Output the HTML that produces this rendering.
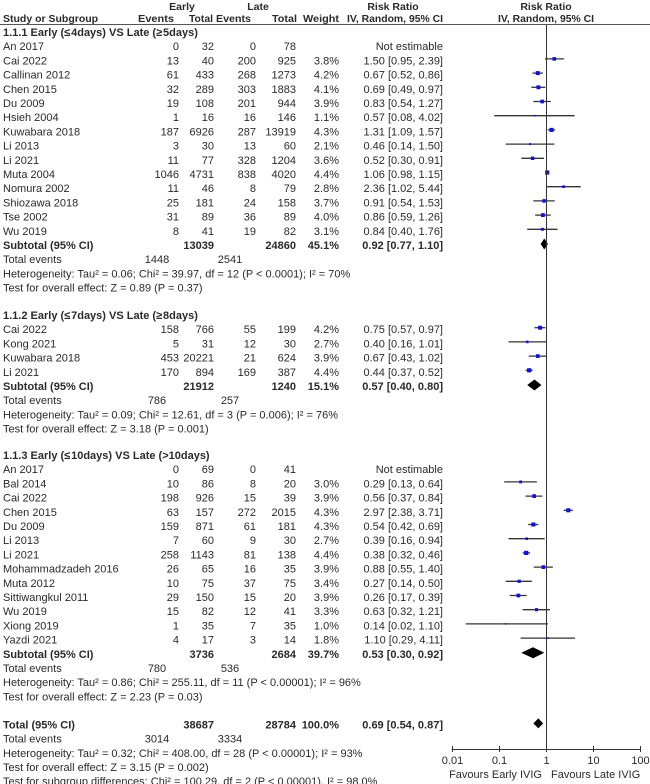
<!DOCTYPE html>
<html><head><meta charset="utf-8">
<style>
html,body{margin:0;padding:0;background:#fff;}
svg{display:block;}
text{font-family:"Liberation Sans",Arial,sans-serif;font-size:11px;fill:#2a2a2a;}
.b{font-weight:bold;}
.h{font-size:10.5px;}
</style></head>
<body>
<svg id="plot" width="650" height="784" viewBox="0 0 650 784" xmlns="http://www.w3.org/2000/svg">
  <g>
    <text x="182" y="10" text-anchor="middle" class="b h">Early</text>
    <text x="258" y="10" text-anchor="middle" class="b h">Late</text>
    <text x="393" y="10" text-anchor="middle" class="b h">Risk Ratio</text>
    <text x="546" y="10" text-anchor="middle" class="b h">Risk Ratio</text>
    <text x="3" y="22" class="b h">Study or Subgroup</text>
    <text x="174" y="22" text-anchor="end" class="b h" textLength="36" lengthAdjust="spacingAndGlyphs">Events</text>
    <text x="213" y="22" text-anchor="end" class="b h" textLength="24" lengthAdjust="spacingAndGlyphs">Total</text>
    <text x="251" y="22" text-anchor="end" class="b h" textLength="35" lengthAdjust="spacingAndGlyphs">Events</text>
    <text x="297" y="22" text-anchor="end" class="b h" textLength="25" lengthAdjust="spacingAndGlyphs">Total</text>
    <text x="339" y="22" text-anchor="end" class="b h" textLength="36" lengthAdjust="spacingAndGlyphs">Weight</text>
    <text x="443" y="22" text-anchor="end" class="b h" textLength="96" lengthAdjust="spacingAndGlyphs">IV, Random, 95% CI</text>
    <text x="546" y="22" text-anchor="middle" class="b h" textLength="96" lengthAdjust="spacingAndGlyphs">IV, Random, 95% CI</text>
    <line x1="0" y1="24.5" x2="650" y2="24.5" stroke="#555" stroke-width="1"/>
  </g>
  <g id="rows"></g>
  <g id="marks"></g>
  <g id="axis"></g>
</svg>
<script>
// ---- data ----
const studyNames = ["An 2017","Cai 2022","Callinan 2012","Chen 2015","Du 2009","Hsieh 2004","Kuwabara 2018","Li 2013","Li 2021","Muta 2004","Nomura 2002","Shiozawa 2018","Tse 2002","Wu 2019",
 "Cai 2022","Kong 2021","Kuwabara 2018","Li 2021",
 "An 2017","Bal 2014","Cai 2022","Chen 2015","Du 2009","Li 2013","Li 2021","Mohammadzadeh 2016","Muta 2012","Sittiwangkul 2011","Wu 2019","Xiong 2019","Yazdi 2021"];
const studyGroup = [0,0,0,0,0,0,0,0,0,0,0,0,0,0, 1,1,1,1, 2,2,2,2,2,2,2,2,2,2,2,2,2];
const earlyEvents = [0,13,61,32,19,1,187,3,11,1046,11,25,31,8, 158,5,453,170, 0,10,198,63,159,7,258,26,10,29,15,1,4];
const earlyTotal = [32,40,433,289,108,16,6926,30,77,4731,46,181,89,41, 766,31,20221,894, 69,86,926,157,871,60,1143,65,75,150,82,35,17];
const lateEvents = [0,200,268,303,201,16,287,13,328,838,8,24,36,19, 55,12,21,169, 0,8,15,272,61,9,81,16,37,15,12,7,3];
const lateTotal = [78,925,1273,1883,944,146,13919,60,1204,4020,79,158,89,82, 199,30,624,387, 41,20,39,2015,181,30,138,35,75,20,41,35,14];
const weights = [null,3.8,4.2,4.1,3.9,1.1,4.3,2.1,3.6,4.4,2.8,3.7,4.0,3.1, 4.2,2.7,3.9,4.4, null,3.0,3.9,4.3,4.3,2.7,4.4,3.9,3.4,3.9,3.3,1.0,1.8];
const riskRatio = [null,1.50,0.67,0.69,0.83,0.57,1.31,0.46,0.52,1.06,2.36,0.91,0.86,0.84, 0.75,0.40,0.67,0.44, null,0.29,0.56,2.97,0.54,0.39,0.38,0.88,0.27,0.26,0.63,0.14,1.10];
const ciLow = [null,0.95,0.52,0.49,0.54,0.08,1.09,0.14,0.30,0.98,1.02,0.54,0.59,0.40, 0.57,0.16,0.43,0.37, null,0.13,0.37,2.38,0.42,0.16,0.32,0.55,0.14,0.17,0.32,0.02,0.29];
const ciHigh = [null,2.39,0.86,0.97,1.27,4.02,1.57,1.50,0.91,1.15,5.44,1.53,1.26,1.76, 0.97,1.01,1.02,0.52, null,0.64,0.84,3.71,0.69,0.94,0.46,1.40,0.50,0.39,1.21,1.10,4.11];

const groupTitles = ["1.1.1 Early (\u2264\u200a4days) VS Late (\u2265\u200a5days)","1.1.2 Early (\u2264\u200a7days) VS Late (\u2265\u200a8days)","1.1.3 Early (\u2264\u200a10days) VS Late (>10days)"];
const subEarlyTotal = [13039,21912,3736];
const subLateTotal = [24860,1240,2684];
const subWeight = ["45.1%","15.1%","39.7%"];
const subRR = [0.92,0.57,0.53];
const subLow = [0.77,0.40,0.30];
const subHigh = [1.10,0.80,0.92];
const subEarlyEvents = [1448,786,780];
const subLateEvents = [2541,257,536];
const subHet = ["Heterogeneity: Tau\u00b2 = 0.06; Chi\u00b2 = 39.97, df = 12 (P < 0.0001); I\u00b2 = 70%",
 "Heterogeneity: Tau\u00b2 = 0.09; Chi\u00b2 = 12.61, df = 3 (P = 0.006); I\u00b2 = 76%",
 "Heterogeneity: Tau\u00b2 = 0.86; Chi\u00b2 = 255.11, df = 11 (P < 0.00001); I\u00b2 = 96%"];
const subTest = ["Test for overall effect: Z = 0.89 (P = 0.37)","Test for overall effect: Z = 3.18 (P = 0.001)","Test for overall effect: Z = 2.23 (P = 0.03)"];
const totalEarly = 38687, totalLate = 28784, totalRR = 0.69, totalLow = 0.54, totalHigh = 0.87;
const totalEarlyEvents = 3014, totalLateEvents = 3334;
const totalHet = "Heterogeneity: Tau\u00b2 = 0.32; Chi\u00b2 = 408.00, df = 28 (P < 0.00001); I\u00b2 = 93%";
const totalTest = "Test for overall effect: Z = 3.15 (P = 0.002)";
const subgroupTest = "Test for subgroup differences: Chi\u00b2 = 100.29, df = 2 (P < 0.00001), I\u00b2 = 98.0%";
const tickValues = [0.01,0.1,1,10,100];
const tickLabels = ["0.01","0.1","1","10","100"];

// ---- layout ----
const NS = "http://www.w3.org/2000/svg";
const rowsG = document.getElementById("rows");
const marksG = document.getElementById("marks");
const axisG = document.getElementById("axis");
const PITCH = 14.2;
const groupStart = [32, 315, 455];
const X0 = 546, DEC = 47.2;
function xScale(v){ return X0 + Math.log10(v)*DEC; }
function fmt(v){ return v.toFixed(2); }
function txt(x,y,s,anchor,bold,name){
  const t = document.createElementNS(NS,"text");
  t.setAttribute("x",x); t.setAttribute("y",y+4);
  if(anchor) t.setAttribute("text-anchor",anchor);
  if(bold) t.setAttribute("class","b");
  t.textContent = s;
  
  
  rowsG.appendChild(t);
  return t;
}
function diamond(y,rr,lo,hi,h,name){
  const p = document.createElementNS(NS,"polygon");
  const xl=xScale(lo), xr=xScale(hi), xc=xScale(rr);
  p.setAttribute("points",`${xl},${y} ${xc},${y-h} ${xr},${y} ${xc},${y+h}`);
  p.setAttribute("fill","#000");
  
  
  marksG.appendChild(p);
}

let lastY = 0;
for(let g=0; g<3; g++){
  let y = groupStart[g];
  txt(3,y,groupTitles[g],"start",true,"subgroup-title");
  for(let i=0;i<studyNames.length;i++){
    if(studyGroup[i]!==g) continue;
    y += PITCH;
    txt(3,y,studyNames[i],"start",false,"study-name");
    txt(179,y,String(earlyEvents[i]),"end",false,"early-events");
    txt(214,y,String(earlyTotal[i]),"end",false,"early-total");
    txt(256,y,String(lateEvents[i]),"end",false,"late-events");
    txt(296,y,String(lateTotal[i]),"end",false,"late-total");
    if(riskRatio[i]===null){
      txt(443,y,"Not estimable","end",false,"ci-text");
      continue;
    }
    txt(339,y,weights[i].toFixed(1)+"%","end",false,"weight");
    txt(443,y,`${fmt(riskRatio[i])} [${fmt(ciLow[i])}, ${fmt(ciHigh[i])}]`,"end",false,"ci-text");
    const ln = document.createElementNS(NS,"line");
    ln.setAttribute("x1",xScale(ciLow[i])); ln.setAttribute("x2",xScale(ciHigh[i]));
    ln.setAttribute("y1",y-1.5); ln.setAttribute("y2",y-1.5);
    ln.setAttribute("stroke","#333"); ln.setAttribute("stroke-width","1.3");
    
    
    marksG.appendChild(ln);
    const s = Math.max(1.6, weights[i]*0.95);
    const r = document.createElementNS(NS,"rect");
    r.setAttribute("x",xScale(riskRatio[i])-s/2); r.setAttribute("y",y-1.5-s/2);
    r.setAttribute("width",s); r.setAttribute("height",s);
    r.setAttribute("fill","#1010e0");
    
    
    marksG.appendChild(r);
  }
  y += PITCH;
  txt(3,y,"Subtotal (95% CI)","start",true,"subtotal-label");
  txt(214,y,String(subEarlyTotal[g]),"end",true,"subtotal-early");
  txt(296,y,String(subLateTotal[g]),"end",true,"subtotal-late");
  txt(339,y,subWeight[g],"end",true,"subtotal-weight");
  txt(443,y,`${fmt(subRR[g])} [${fmt(subLow[g])}, ${fmt(subHigh[g])}]`,"end",true,"subtotal-ci");
  diamond(y-1,subRR[g],subLow[g],subHigh[g],5.5,"subtotal-diamond");
  y += PITCH;
  txt(3,y,"Total events","start",false,"total-events-label");
  txt(157,y,String(subEarlyEvents[g]),"middle",false,"total-events-early");
  txt(230,y,String(subLateEvents[g]),"middle",false,"total-events-late");
  y += PITCH;
  txt(3,y,subHet[g],"start",false,"heterogeneity");
  y += PITCH;
  txt(3,y,subTest[g],"start",false,"overall-effect");
  lastY = y;
}
let y = lastY + 28;
txt(3,y,"Total (95% CI)","start",true,"total-label");
txt(214,y,String(totalEarly),"end",true,"total-early");
txt(296,y,String(totalLate),"end",true,"total-late");
txt(339,y,"100.0%","end",true,"total-weight");
txt(443,y,`${fmt(totalRR)} [${fmt(totalLow)}, ${fmt(totalHigh)}]`,"end",true,"total-ci");
diamond(y-1,totalRR,totalLow,totalHigh,5,"total-diamond");
y += PITCH;
txt(3,y,"Total events","start",false,"total-events-label");
txt(157,y,String(totalEarlyEvents),"middle",false,"total-events-early");
txt(230,y,String(totalLateEvents),"middle",false,"total-events-late");
y += PITCH; txt(3,y,totalHet,"start",false,"total-heterogeneity");
y += PITCH; txt(3,y,totalTest,"start",false,"total-overall-effect");
y += PITCH; txt(3,y,subgroupTest,"start",false,"subgroup-differences");

// ---- axis ----
const AXY = 749;
function aline(x1,y1,x2,y2,name){
  const l = document.createElementNS(NS,"line");
  l.setAttribute("x1",x1); l.setAttribute("y1",y1); l.setAttribute("x2",x2); l.setAttribute("y2",y2);
  l.setAttribute("stroke","#333"); l.setAttribute("stroke-width","1");
  
  
  axisG.appendChild(l);
}
aline(X0+0.5,25,X0+0.5,AXY,"null-line");
aline(xScale(tickValues[0]),AXY+0.5,xScale(tickValues[tickValues.length-1]),AXY+0.5,"x-axis");
tickValues.forEach((v,i)=>{
  const x = Math.round(xScale(v))+0.5;
  aline(x,AXY-3,x,AXY+3,"x-tick");
  const t = document.createElementNS(NS,"text");
  t.setAttribute("x",x); t.setAttribute("y",AXY+15);
  t.setAttribute("text-anchor","middle");
  t.setAttribute("fill","#333");
  t.textContent = tickLabels[i];
  
  
  axisG.appendChild(t);
});
const f1 = document.createElementNS(NS,"text");
f1.setAttribute("x",542); f1.setAttribute("y",AXY+29); f1.setAttribute("text-anchor","end");
f1.textContent = "Favours Early IVIG";


axisG.appendChild(f1);
const f2 = document.createElementNS(NS,"text");
f2.setAttribute("x",551); f2.setAttribute("y",AXY+29);
f2.textContent = "Favours Late IVIG";


axisG.appendChild(f2);
</script>
</body></html>
